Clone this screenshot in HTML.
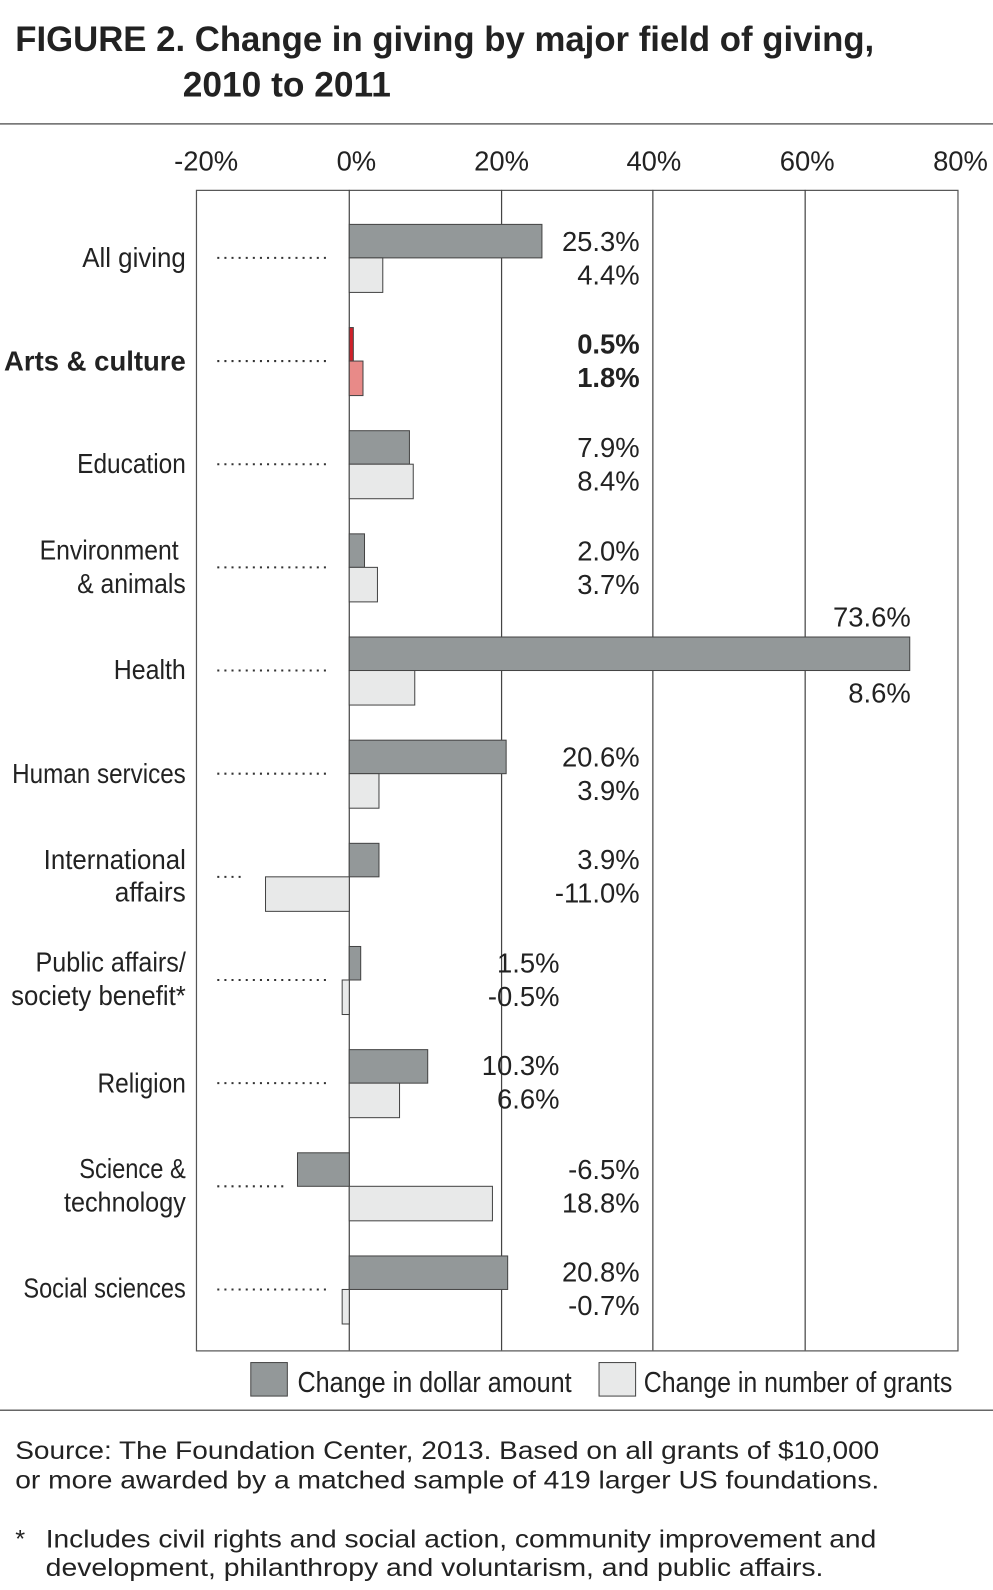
<!DOCTYPE html>
<html><head><meta charset="utf-8"><style>
html,body{margin:0;padding:0;background:#fff;overflow:hidden;width:993px;height:1590px}
svg{display:block}
text{font-family:"Liberation Sans",sans-serif;fill:#222}
.t{font-size:35px;font-weight:bold}
.v{font-size:27px;text-anchor:end}
.l{font-size:27px;text-anchor:end}
.k{font-size:27px;text-anchor:middle}
.f{font-size:25px}
.d{fill:#939899;stroke:#444;stroke-width:1}
.g{fill:#e8e9e9;stroke:#444;stroke-width:1}
.dot{stroke:#333;stroke-width:2;stroke-dasharray:2 5}
</style></head><body>
<svg width="993" height="1590" viewBox="0 0 978 1566" preserveAspectRatio="none">
<text class="t" x="15" y="50" textLength="846" lengthAdjust="spacingAndGlyphs">FIGURE 2. Change in giving by major field of giving,</text>
<text class="t" x="180" y="95" textLength="205" lengthAdjust="spacingAndGlyphs">2010 to 2011</text>
<line x1="0" y1="122" x2="978" y2="122" stroke="#666" stroke-width="1.5"/>
<line x1="0" y1="1389" x2="978" y2="1389" stroke="#666" stroke-width="1.5"/>
<text class="k" x="203" y="168">-20%</text>
<text class="k" x="351" y="168">0%</text>
<text class="k" x="494" y="168">20%</text>
<text class="k" x="644" y="168">40%</text>
<text class="k" x="795" y="168">60%</text>
<text class="k" x="946" y="168">80%</text>
<rect x="193.5" y="187.5" width="750" height="1143" fill="none" stroke="#555" stroke-width="1.2"/>
<g stroke="#444" stroke-width="1.2">
<line x1="344" y1="187" x2="344" y2="1330"/><line x1="494" y1="187" x2="494" y2="1330"/>
<line x1="643" y1="187" x2="643" y2="1330"/><line x1="793" y1="187" x2="793" y2="1330"/>
</g>
<rect class="d" x="344" y="221" width="189.75" height="33"/><rect class="g" x="344" y="254" width="33" height="34"/>
<rect x="344" y="322.6" width="4" height="33" fill="#d0202a" stroke="#444"/><rect x="344" y="355.6" width="13.5" height="34" fill="#e88a88" stroke="#444"/>
<rect class="d" x="344" y="424.2" width="59.25" height="33"/><rect class="g" x="344" y="457.2" width="63" height="34"/>
<rect class="d" x="344" y="525.8" width="15" height="33"/><rect class="g" x="344" y="558.8" width="27.75" height="34"/>
<rect class="d" x="344" y="627.4" width="552" height="33"/><rect class="g" x="344" y="660.4" width="64.5" height="34"/>
<rect class="d" x="344" y="729" width="154.5" height="33"/><rect class="g" x="344" y="762" width="29.25" height="34"/>
<rect class="d" x="344" y="830.6" width="29.25" height="33"/><rect class="g" x="261.5" y="863.6" width="82.5" height="34"/>
<rect class="d" x="344" y="932.2" width="11.25" height="33"/><rect class="g" x="337" y="965.2" width="7" height="34"/>
<rect class="d" x="344" y="1033.8" width="77.25" height="33"/><rect class="g" x="344" y="1066.8" width="49.5" height="34"/>
<rect class="d" x="293" y="1135.4" width="51" height="33"/><rect class="g" x="344" y="1168.4" width="141" height="34"/>
<rect class="d" x="344" y="1237" width="156" height="33"/><rect class="g" x="337" y="1270" width="7" height="34"/>
<g class="dot">
<line x1="214" y1="254" x2="326" y2="254"/><line x1="214" y1="355.6" x2="326" y2="355.6"/>
<line x1="214" y1="457.2" x2="326" y2="457.2"/><line x1="214" y1="558.8" x2="326" y2="558.8"/>
<line x1="214" y1="660.4" x2="326" y2="660.4"/><line x1="214" y1="762" x2="326" y2="762"/>
<line x1="214" y1="863.6" x2="242" y2="863.6"/><line x1="214" y1="965.2" x2="326" y2="965.2"/>
<line x1="214" y1="1066.8" x2="326" y2="1066.8"/><line x1="214" y1="1168.4" x2="280" y2="1168.4"/>
<line x1="214" y1="1270" x2="326" y2="1270"/>
</g>
<text class="l" x="183" y="263" textLength="102" lengthAdjust="spacingAndGlyphs">All giving</text>
<text class="l" x="183" y="365" style="font-weight:bold" textLength="179" lengthAdjust="spacingAndGlyphs">Arts &amp; culture</text>
<text class="l" x="183" y="466" textLength="107" lengthAdjust="spacingAndGlyphs">Education</text>
<text class="l" x="176" y="551" textLength="137" lengthAdjust="spacingAndGlyphs">Environment</text><text class="l" x="183" y="584" textLength="107" lengthAdjust="spacingAndGlyphs">&amp; animals</text>
<text class="l" x="183" y="669" textLength="71" lengthAdjust="spacingAndGlyphs">Health</text>
<text class="l" x="183" y="771" textLength="171" lengthAdjust="spacingAndGlyphs">Human services</text>
<text class="l" x="183" y="856" textLength="140" lengthAdjust="spacingAndGlyphs">International</text><text class="l" x="183" y="888" textLength="70" lengthAdjust="spacingAndGlyphs">affairs</text>
<text class="l" x="183" y="957" textLength="148" lengthAdjust="spacingAndGlyphs">Public affairs/</text><text class="l" x="183" y="990" textLength="172" lengthAdjust="spacingAndGlyphs">society benefit*</text>
<text class="l" x="183" y="1076" textLength="87" lengthAdjust="spacingAndGlyphs">Religion</text>
<text class="l" x="183" y="1160" textLength="105" lengthAdjust="spacingAndGlyphs">Science &amp;</text><text class="l" x="183" y="1193" textLength="120" lengthAdjust="spacingAndGlyphs">technology</text>
<text class="l" x="183" y="1278" textLength="160" lengthAdjust="spacingAndGlyphs">Social sciences</text>
<text class="v" x="630" y="247">25.3%</text><text class="v" x="630" y="280">4.4%</text>
<text class="v" x="630" y="348" style="font-weight:bold">0.5%</text><text class="v" x="630" y="381" style="font-weight:bold">1.8%</text>
<text class="v" x="630" y="450">7.9%</text><text class="v" x="630" y="483">8.4%</text>
<text class="v" x="630" y="552">2.0%</text><text class="v" x="630" y="585">3.7%</text>
<text class="v" x="897" y="617">73.6%</text><text class="v" x="897" y="692">8.6%</text>
<text class="v" x="630" y="755">20.6%</text><text class="v" x="630" y="788">3.9%</text>
<text class="v" x="630" y="856">3.9%</text><text class="v" x="630" y="889">-11.0%</text>
<text class="v" x="551" y="958">1.5%</text><text class="v" x="551" y="991">-0.5%</text>
<text class="v" x="551" y="1059">10.3%</text><text class="v" x="551" y="1092">6.6%</text>
<text class="v" x="630" y="1161">-6.5%</text><text class="v" x="630" y="1194">18.8%</text>
<text class="v" x="630" y="1262">20.8%</text><text class="v" x="630" y="1295">-0.7%</text>
<rect class="d" x="247" y="1342" width="36" height="33"/>
<text x="293" y="1371" style="font-size:28px" textLength="270" lengthAdjust="spacingAndGlyphs">Change in dollar amount</text>
<rect class="g" x="590" y="1342" width="36" height="33"/>
<text x="634" y="1371" style="font-size:28px" textLength="304" lengthAdjust="spacingAndGlyphs">Change in number of grants</text>
<text class="f" x="15" y="1437" textLength="851" lengthAdjust="spacingAndGlyphs">Source: The Foundation Center, 2013. Based on all grants of $10,000</text>
<text class="f" x="15" y="1466" textLength="851" lengthAdjust="spacingAndGlyphs">or more awarded by a matched sample of 419 larger US foundations.</text>
<text class="f" x="15" y="1524">*</text>
<text class="f" x="45" y="1524" textLength="818" lengthAdjust="spacingAndGlyphs">Includes civil rights and social action, community improvement and</text>
<text class="f" x="45" y="1552" textLength="766" lengthAdjust="spacingAndGlyphs">development, philanthropy and voluntarism, and public affairs.</text>
</svg>
</body></html>
